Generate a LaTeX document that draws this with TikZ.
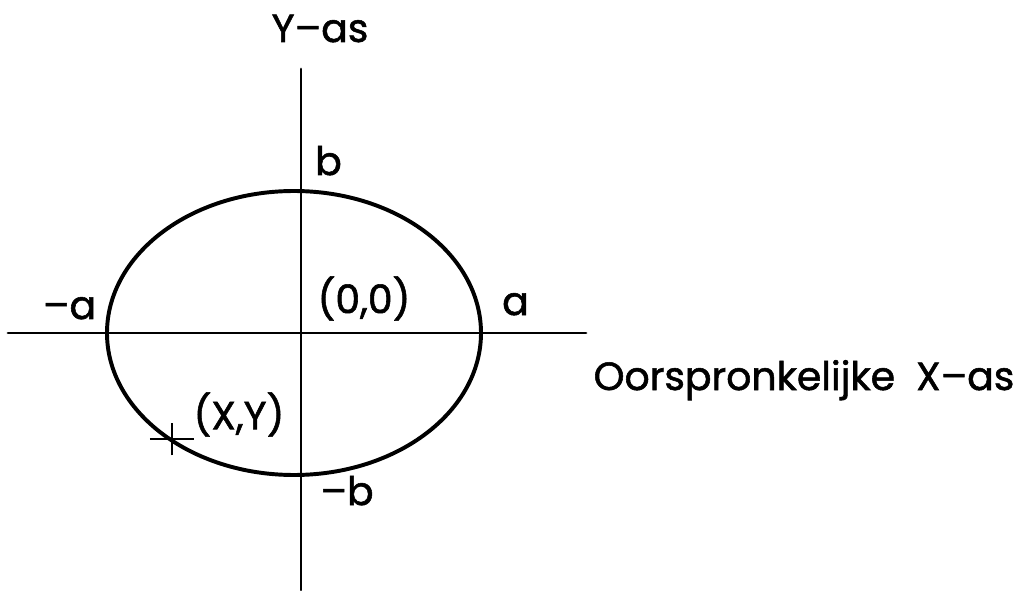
\documentclass[tikz,border=0pt]{standalone}
\usepackage{fontspec}
\setmainfont{Poppins}[FakeBold=1.4]
\usepackage{tikz}
\usetikzlibrary{calc}

\begin{document}
\begin{tikzpicture}[
    asline/.style={line width=2.1pt, line cap=round},
    curve/.style={line width=2.8pt},
    lbl/.style={inner sep=0pt, font=\fontsize{28}{30}\selectfont},
]
    \useasboundingbox (-7.525, -6.45) rectangle (18.1, 8.325);

    % Axes
    \coordinate (ytop) at (0, 6.6);
    \coordinate (ybot) at (0, -6.425);
    \coordinate (xleft) at (-7.325, 0);
    \coordinate (xright) at (7.125, 0);
    \draw[asline] (ytop) -- (ybot);
    \draw[asline] (xleft) -- (xright);

    % Ellipse
    \coordinate (centre) at (-0.175, 0);
    \draw[curve] (centre) ellipse [x radius=4.675, y radius=3.55];

    % Point on the ellipse
    \coordinate (pt) at (-3.225, -2.65);
    \draw[line width=1.6pt] ($(pt)+(-0.55,0)$) -- ($(pt)+(0.55,0)$);
    \draw[line width=1.6pt] ($(pt)+(0,-0.41)$) -- ($(pt)+(0,0.41)$);

    % Labels
    \node[lbl, anchor=base] (ylabel) at (0.475, 7.275) {Y–as};
    \node[lbl, anchor=base] (xlabel) at (12.575, -1.425) {Oorspronkelijke\ \ X–as};
    \node[lbl, anchor=base] (bpos) at (0.6875, 3.95) {b};
    \node[lbl, anchor=base] (bneg) at (1.15, -4.3) {–b};
    \node[lbl, anchor=base] (apos) at (5.3625, 0.45) {a};
    \node[lbl, anchor=base] (aneg) at (-5.7875, 0.35) {–a};
    \node[lbl] (origin) at (1.575, 0.8625) {(0,0)};
    \node[lbl] (ptlabel) at (-1.55, -2.0375) {(X,Y)};
\end{tikzpicture}
\end{document}
